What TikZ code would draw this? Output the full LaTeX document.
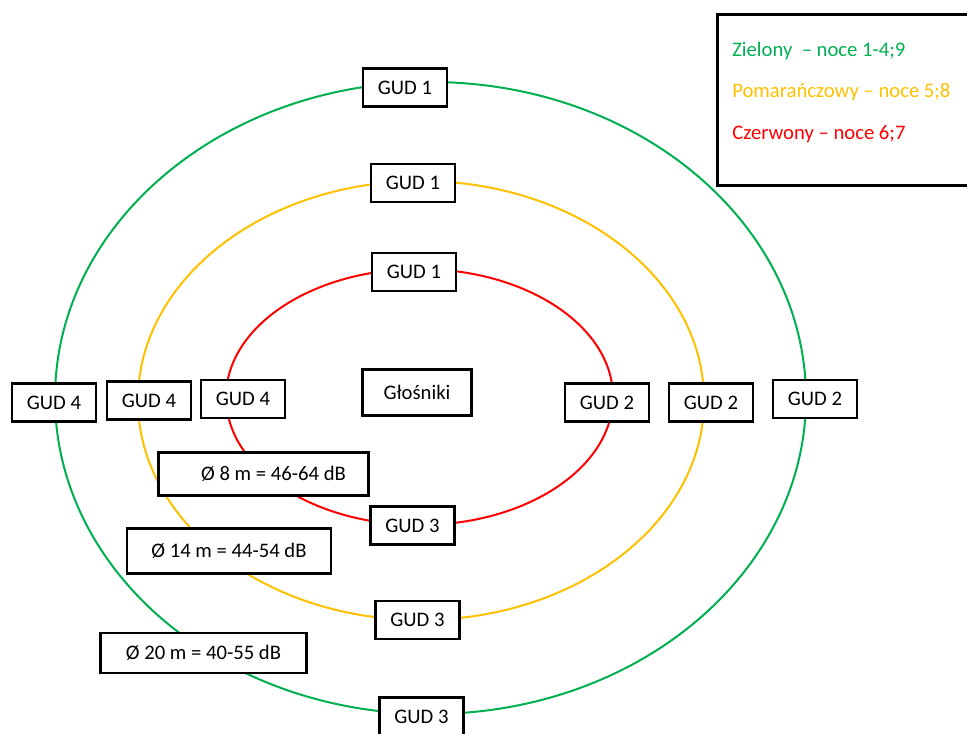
\documentclass[tikz,border=0pt]{standalone}
\usepackage{fontspec}
\setmainfont{Carlito}
\definecolor{ringgreen}{RGB}{0,176,80}
\definecolor{ringorange}{RGB}{255,192,0}
\definecolor{ringred}{RGB}{255,0,0}
\usetikzlibrary{positioning}

\begin{document}
\begin{tikzpicture}[
      x=0.75pt, y=-0.75pt,
      ring/.style={line width=1.5pt},
      gud/.style={draw, line width=2.2pt, fill=white, inner sep=2pt,
                  minimum width=63pt, minimum height=28.5pt,
                  font=\fontsize{15.5}{18}\selectfont},
      db/.style={gud, minimum height=32pt},
      legtxt/.style={anchor=west, inner sep=0pt, font=\fontsize{15.5}{18}\selectfont}
    ]
    \useasboundingbox (0,0) rectangle (967,733);
    \clip (0,0) rectangle (967,733);
    % rings
    \draw[ring, ringgreen]  (430.5,398) ellipse [x radius=281.6pt, y radius=237pt];
    \draw[ring, ringorange] (421,400.5) ellipse [x radius=212.3pt, y radius=164.6pt];
    \draw[ring, ringred]    (419.5,397) ellipse [x radius=145.1pt, y radius=96pt];
    % centre
    \node[gud, minimum width=82pt, minimum height=35pt] (spk) at (417,392.5) {Głośniki};
    % green ring
    \node[gud] (g1) at (405,87.5) {GUD 1};
    \node[gud] (g2) at (815,399) {GUD 2};
    \node[gud] (g3) at (421.5,716.5) {GUD 3};
    \node[gud] (g4) at (54,402.5) {GUD 4};
    % orange ring
    \node[gud] (o1) at (413,183) {GUD 1};
    \node[gud] (o2) at (711,402.5) {GUD 2};
    \node[gud] (o3) at (417.5,620) {GUD 3};
    \node[gud] (o4) at (149,400.5) {GUD 4};
    % red ring
    \node[gud] (r1) at (414,272) {GUD 1};
    \node[gud] (r2) at (607,402.5) {GUD 2};
    \node[gud] (r3) at (412.5,525.5) {GUD 3};
    \node[gud] (r4) at (243,399) {GUD 4};
    % diameters
    \node[db, minimum width=157pt] (d8)  at (263.5,474) {\hspace{15pt}Ø 8 m = 46-64 dB};
    \node[db, minimum width=153pt, minimum height=34pt] (d14) at (229,551) {Ø 14 m = 44-54 dB};
    \node[db, minimum width=155pt, minimum height=30pt] (d20) at (203.5,653) {Ø 20 m = 40-55 dB};
    % legend
    \node[draw, line width=2.2pt, anchor=north west, minimum width=205pt,
          minimum height=128pt] (leg) at (716,13) {};
    \node[legtxt, text=ringgreen] (lgreen) at (732,50.5) {Zielony\ \ – noce 1-4;9};
    \node[below=31.5pt of lgreen.west, legtxt, text=ringorange] (lorange) {Pomarańczowy – noce 5;8};
    \node[below=31.5pt of lorange.west, legtxt, text=ringred] (lred) {Czerwony – noce 6;7};
\end{tikzpicture}
\end{document}
